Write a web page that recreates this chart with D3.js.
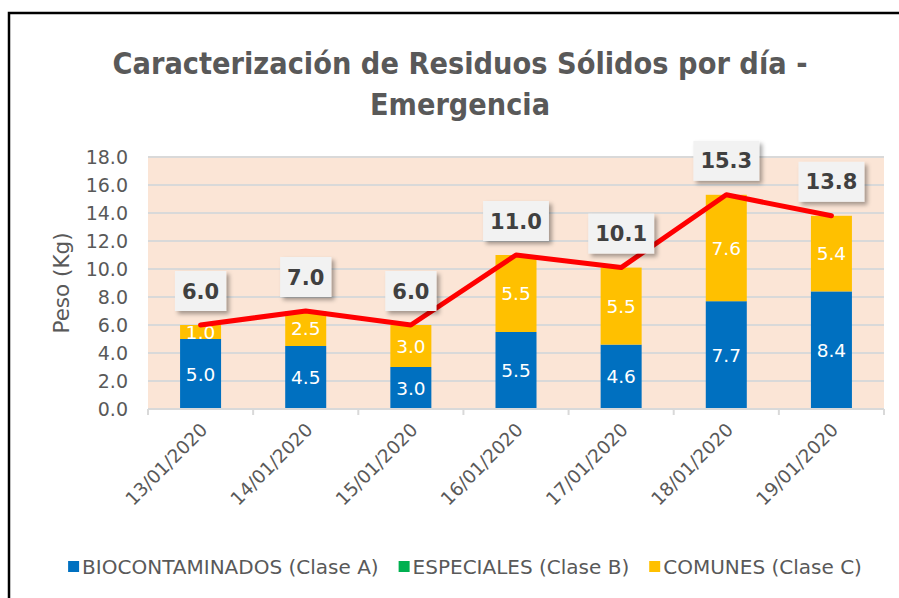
<!DOCTYPE html>
<html>
<head>
<meta charset="utf-8">
<script src="https://cdn.jsdelivr.net/npm/d3@7"></script>
<style>
  body { margin: 0; background: #fff; }
  svg { display: block; font-family: 'DejaVu Sans', sans-serif; }
</style>
</head>
<body>
<div id="chart"></div>
<script>
// data
var dates = ['13/01/2020', '14/01/2020', '15/01/2020', '16/01/2020', '17/01/2020', '18/01/2020', '19/01/2020'];
var biocontaminados = [5.0, 4.5, 3.0, 5.5, 4.6, 7.7, 8.4];
var especiales = [0, 0, 0, 0, 0, 0, 0];
var comunes = [1.0, 2.5, 3.0, 5.5, 5.5, 7.6, 5.4];
var totals = [6.0, 7.0, 6.0, 11.0, 10.1, 15.3, 13.8];
var yTicks = [0, 2, 4, 6, 8, 10, 12, 14, 16, 18];

var seriesNames = ['BIOCONTAMINADOS (Clase A)', 'ESPECIALES (Clase B)', 'COMUNES (Clase C)'];
var seriesKeys = ['bio', 'esp', 'com'];
var seriesColors = ['#0070C0', '#00B050', '#FFC000'];

var width = 899, height = 598;
var margin = { left: 148, right: 15, top: 157, bottom: 189 };

var svg = d3.select('#chart').append('svg')
    .attr('width', width)
    .attr('height', height);

// soft shadow for the total labels
var defs = svg.append('defs');
defs.append('filter')
    .attr('id', 'shadow')
    .attr('x', '-30%').attr('y', '-30%')
    .attr('width', '160%').attr('height', '160%')
  .append('feDropShadow')
    .attr('dx', 3).attr('dy', 3)
    .attr('stdDeviation', 2)
    .attr('flood-color', '#000')
    .attr('flood-opacity', 0.35);

// outer border of the chart
svg.append('rect')
    .attr('x', 9).attr('y', 13)
    .attr('width', 900).attr('height', 600)
    .attr('fill', 'none')
    .attr('stroke', '#000')
    .attr('stroke-width', 2.5);

// title, squeezed a little so it reads like the narrow original face
var title = svg.append('g')
    .attr('fill', '#595959')
    .attr('font-weight', 'bold')
    .attr('font-size', 30)
    .attr('text-anchor', 'middle');
title.append('text')
    .attr('x', 460).attr('y', 74)
    .attr('textLength', 695)
    .attr('lengthAdjust', 'spacingAndGlyphs')
    .text('Caracterización  de Residuos Sólidos por día -');
title.append('text')
    .attr('x', 460).attr('y', 115)
    .attr('textLength', 180)
    .attr('lengthAdjust', 'spacingAndGlyphs')
    .text('Emergencia');

var table = dates.map(function (d, i) {
    return { date: d, bio: biocontaminados[i], esp: especiales[i], com: comunes[i], total: totals[i] };
});

var x = d3.scaleBand()
    .domain(dates)
    .range([margin.left, width - margin.right])
    .paddingInner(0.61)
    .paddingOuter(0.305);

var y = d3.scaleLinear()
    .domain([0, 18])
    .range([height - margin.bottom, margin.top]);

var plotLeft = margin.left, plotRight = width - margin.right;

// plot background
svg.append('rect')
    .attr('x', plotLeft)
    .attr('y', y(18))
    .attr('width', plotRight - plotLeft)
    .attr('height', y(0) - y(18))
    .attr('fill', '#FBE5D6');

// gridlines
svg.append('g')
    .selectAll('line')
    .data(yTicks.slice(1))
    .enter().append('line')
    .attr('x1', plotLeft).attr('x2', plotRight)
    .attr('y1', function (d) { return y(d); })
    .attr('y2', function (d) { return y(d); })
    .attr('stroke', '#D9D9D9')
    .attr('stroke-width', 2);

// y axis labels
var yAxis = d3.axisLeft(y).tickValues(yTicks).tickFormat(d3.format('.1f')).tickSize(0).tickPadding(20);
var gy = svg.append('g')
    .attr('transform', 'translate(' + plotLeft + ',0)')
    .call(yAxis);
gy.select('.domain').remove();
gy.selectAll('text')
    .attr('fill', '#595959')
    .attr('font-size', 19)
    .attr('font-family', 'DejaVu Sans, sans-serif');

svg.append('text')
    .attr('transform', 'translate(69,' + y(9) + ') rotate(-90)')
    .attr('text-anchor', 'middle')
    .attr('fill', '#595959')
    .attr('font-size', 21.5)
    .text('Peso (Kg)');

// stacked bars
var stack = d3.stack().keys(seriesKeys);
var layers = stack(table);

var layer = svg.append('g')
    .selectAll('g')
    .data(layers)
    .enter().append('g')
    .attr('fill', function (d, i) { return seriesColors[i]; });

layer.selectAll('rect')
    .data(function (d) { return d; })
    .enter().append('rect')
    .attr('x', function (d) { return x(d.data.date); })
    .attr('y', function (d) { return y(d[1]); })
    .attr('width', x.bandwidth())
    .attr('height', function (d) { return y(d[0]) - y(d[1]); });

// values inside the segments (empty ones are skipped)
layer.selectAll('text')
    .data(function (d) { return d.filter(function (s) { return s[1] - s[0] > 0; }); })
    .enter().append('text')
    .attr('x', function (d) { return x(d.data.date) + x.bandwidth() / 2; })
    .attr('y', function (d) { return y((d[0] + d[1]) / 2); })
    .attr('dy', '0.36em')
    .attr('text-anchor', 'middle')
    .attr('fill', '#fff')
    .attr('font-size', 18.5)
    .text(function (d) { return d3.format('.1f')(d[1] - d[0]); });

// x axis
var xAxisY = y(0);
svg.append('line')
    .attr('x1', plotLeft).attr('x2', plotRight)
    .attr('y1', xAxisY).attr('y2', xAxisY)
    .attr('stroke', '#D9D9D9')
    .attr('stroke-width', 2);

var tickXs = dates.map(function (d) { return x(d) - x.step() * x.paddingInner() / 2; });
tickXs.push(plotRight);
svg.append('g')
    .selectAll('line')
    .data(tickXs)
    .enter().append('line')
    .attr('x1', function (d) { return d; })
    .attr('x2', function (d) { return d; })
    .attr('y1', xAxisY).attr('y2', xAxisY + 6)
    .attr('stroke', '#D9D9D9')
    .attr('stroke-width', 2);

svg.append('g')
    .selectAll('text')
    .data(dates)
    .enter().append('text')
    .attr('transform', function (d) {
        return 'translate(' + (x(d) + x.bandwidth() / 2 + 8) + ',' + (xAxisY + 22) + ') rotate(-45)';
    })
    .attr('text-anchor', 'end')
    .attr('fill', '#595959')
    .attr('font-size', 18.5)
    .text(function (d) { return d; });

// total line
var line = d3.line()
    .x(function (d) { return x(d.date) + x.bandwidth() / 2; })
    .y(function (d) { return y(d.total); });

svg.append('path')
    .datum(table)
    .attr('d', line)
    .attr('fill', 'none')
    .attr('stroke', '#FF0000')
    .attr('stroke-width', 5)
    .attr('stroke-linecap', 'round')
    .attr('stroke-linejoin', 'round');

// total labels in boxes
var totalLabel = svg.append('g')
    .selectAll('g')
    .data(table)
    .enter().append('g')
    .attr('transform', function (d) {
        return 'translate(' + (x(d.date) + x.bandwidth() / 2) + ',' + (y(d.total) - 34) + ')';
    });

totalLabel.append('text')
    .attr('text-anchor', 'middle')
    .attr('dy', '0.36em')
    .attr('fill', '#404040')
    .attr('font-weight', 'bold')
    .attr('font-size', 21)
    .text(function (d) { return d3.format('.1f')(d.total); })
    .each(function () {
        var w = this.getComputedTextLength() + 14;
        d3.select(this.parentNode).insert('rect', 'text')
            .attr('x', -w / 2).attr('y', -20)
            .attr('width', w).attr('height', 40)
            .attr('fill', '#F2F2F2')
            .attr('filter', 'url(#shadow)');
    });

// legend
var legend = svg.append('g')
    .attr('transform', 'translate(0,567)');

var item = legend.selectAll('g')
    .data(seriesNames)
    .enter().append('g');

item.append('rect')
    .attr('y', -6)
    .attr('width', 11).attr('height', 11)
    .attr('fill', function (d, i) { return seriesColors[i]; });

item.append('text')
    .attr('x', 14)
    .attr('dy', '0.36em')
    .attr('fill', '#595959')
    .attr('font-size', 20)
    .text(function (d) { return d; });

var offsets = [], pos = 0;
item.each(function () {
    offsets.push(pos);
    pos += this.getBBox().width + 20;
});
var legendStart = 465 - (pos - 20) / 2;
item.attr('transform', function (d, i) { return 'translate(' + (legendStart + offsets[i]) + ',0)'; });
</script>
</body>
</html>
